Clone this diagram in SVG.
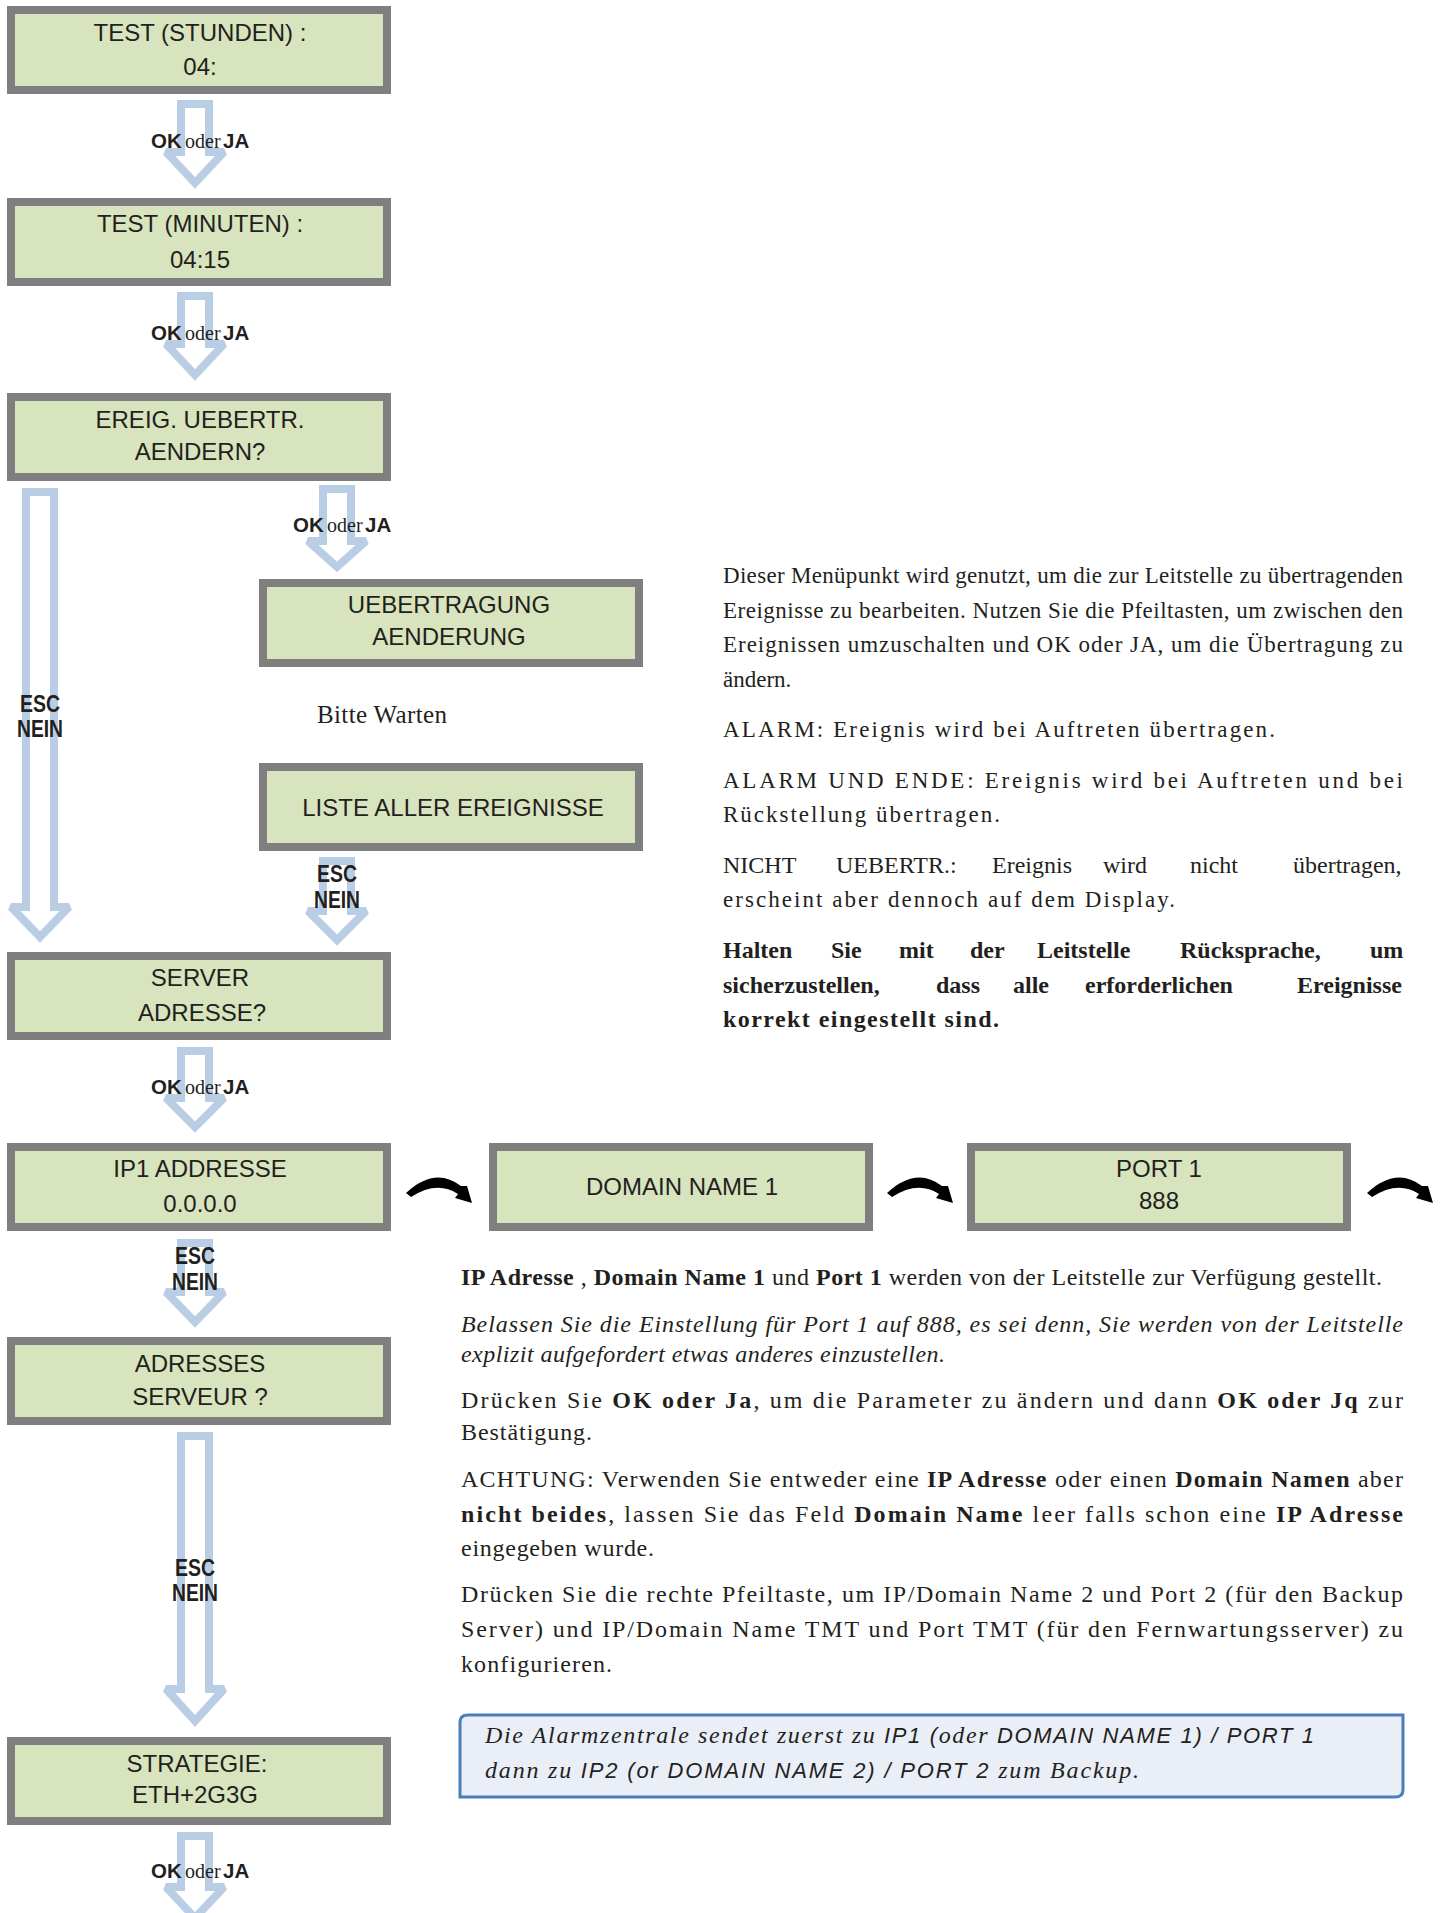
<svg xmlns="http://www.w3.org/2000/svg" xmlns:xlink="http://www.w3.org/1999/xlink" width="1442" height="1913" viewBox="0 0 1442 1913">
<defs>
<style>
.box rect{fill:#d7e4bd;stroke:#7f7f7f;stroke-width:8}
.bt{font-family:"Liberation Sans",Arial,sans-serif;font-size:24px;fill:#231f20;text-anchor:middle}
.arr{fill:none;stroke:#b9cde5;stroke-width:8;stroke-linejoin:miter;stroke-miterlimit:2}
.ok{font-family:"Liberation Sans",Arial,sans-serif;font-size:20.5px;font-weight:bold;fill:#231f20}
.oder{font-family:"Liberation Serif","Times New Roman",serif;font-size:20px;font-weight:normal}
.esc{font-family:"Liberation Sans",Arial,sans-serif;font-size:23px;font-weight:bold;fill:#231f20;text-anchor:middle}
.ser{font-family:"Liberation Serif","Times New Roman",serif;font-size:23px;fill:#231f20}
.big{font-size:24px}
.b{font-weight:bold}
.i{font-style:italic}
.sans{font-family:"Liberation Sans",Arial,sans-serif;font-size:22px}
.curv{fill:#000}
</style>
<path id="curved" d="M406,1193 Q435,1166 461,1186 L467,1186 L472,1203 L455,1198 L458,1194 Q437,1180 411,1197 Z"/>
</defs>
<rect width="1442" height="1913" fill="#ffffff"/>

<g id="connectors">
<path class="arr" d="M181,104 H209 V152 H224 L195,183 L166,152 H181 Z"/>
<path class="arr" d="M181,296 H209 V344 H224 L195,375 L166,344 H181 Z"/>
<path class="arr" d="M26,492 H54 V907 H69 L40,937 L11,907 H26 Z"/>
<path class="arr" d="M323,489 H351 V541 H366 L337,567 L308,541 H323 Z"/>
<path class="arr" d="M323,861 H351 V911 H366 L337,940 L308,911 H323 Z"/>
<path class="arr" d="M181,1051 H209 V1098 H224 L195,1127 L166,1098 H181 Z"/>
<path class="arr" d="M181,1243 H209 V1292 H224 L195,1322 L166,1292 H181 Z"/>
<path class="arr" d="M181,1436 H209 V1689 H224 L195,1721 L166,1689 H181 Z"/>
<path class="arr" d="M181,1836 H209 V1887 H224 L195,1918 L166,1887 H181 Z"/>
<use xlink:href="#curved" class="curv"/>
<use xlink:href="#curved" class="curv" x="481"/>
<use xlink:href="#curved" class="curv" x="961"/>
<text class="ok" y="148"><tspan x="151">OK</tspan><tspan class="oder" x="185">oder</tspan><tspan x="223">JA</tspan></text>
<text class="ok" y="340"><tspan x="151">OK</tspan><tspan class="oder" x="185">oder</tspan><tspan x="223">JA</tspan></text>
<text class="ok" y="532"><tspan x="293">OK</tspan><tspan class="oder" x="327">oder</tspan><tspan x="365">JA</tspan></text>
<text class="ok" y="1094"><tspan x="151">OK</tspan><tspan class="oder" x="185">oder</tspan><tspan x="223">JA</tspan></text>
<text class="ok" y="1878"><tspan x="151">OK</tspan><tspan class="oder" x="185">oder</tspan><tspan x="223">JA</tspan></text>
<text class="esc" x="40" y="712" textLength="40" lengthAdjust="spacingAndGlyphs">ESC</text>
<text class="esc" x="40" y="737" textLength="46" lengthAdjust="spacingAndGlyphs">NEIN</text>
<text class="esc" x="337" y="882" textLength="40" lengthAdjust="spacingAndGlyphs">ESC</text>
<text class="esc" x="337" y="908" textLength="46" lengthAdjust="spacingAndGlyphs">NEIN</text>
<text class="esc" x="195" y="1264" textLength="40" lengthAdjust="spacingAndGlyphs">ESC</text>
<text class="esc" x="195" y="1290" textLength="46" lengthAdjust="spacingAndGlyphs">NEIN</text>
<text class="esc" x="195" y="1576" textLength="40" lengthAdjust="spacingAndGlyphs">ESC</text>
<text class="esc" x="195" y="1601" textLength="46" lengthAdjust="spacingAndGlyphs">NEIN</text>
</g>

<g id="n-test-stunden" class="box"><rect x="11" y="10" width="376" height="80"/><text class="bt" x="200" y="41">TEST (STUNDEN) :</text><text class="bt" x="200" y="75">04:</text></g>
<g id="n-test-minuten" class="box"><rect x="11" y="202" width="376" height="80"/><text class="bt" x="200" y="232">TEST (MINUTEN) :</text><text class="bt" x="200" y="268">04:15</text></g>
<g id="n-ereig" class="box"><rect x="11" y="397" width="376" height="80"/><text class="bt" x="200" y="428">EREIG. UEBERTR.</text><text class="bt" x="200" y="460">AENDERN?</text></g>
<g id="n-uebertragung" class="box"><rect x="263" y="583" width="376" height="80"/><text class="bt" x="449" y="613">UEBERTRAGUNG</text><text class="bt" x="449" y="645">AENDERUNG</text></g>
<g id="n-bitte"><text class="ser" x="317" y="723" style="font-size:25px" textLength="130">Bitte Warten</text></g>
<g id="n-liste" class="box"><rect x="263" y="767" width="376" height="80"/><text class="bt" x="453" y="816">LISTE ALLER EREIGNISSE</text></g>
<g id="n-server" class="box"><rect x="11" y="956" width="376" height="80"/><text class="bt" x="200" y="986">SERVER</text><text class="bt" x="202" y="1021">ADRESSE?</text></g>
<g id="n-ip1" class="box"><rect x="11" y="1147" width="376" height="80"/><text class="bt" x="200" y="1177">IP1 ADDRESSE</text><text class="bt" x="200" y="1212">0.0.0.0</text></g>
<g id="n-domain" class="box"><rect x="493" y="1147" width="376" height="80"/><text class="bt" x="682" y="1195">DOMAIN NAME 1</text></g>
<g id="n-port" class="box"><rect x="971" y="1147" width="376" height="80"/><text class="bt" x="1159" y="1177">PORT 1</text><text class="bt" x="1159" y="1209">888</text></g>
<g id="n-adresses" class="box"><rect x="11" y="1341" width="376" height="80"/><text class="bt" x="200" y="1372">ADRESSES</text><text class="bt" x="200" y="1405">SERVEUR ?</text></g>
<g id="n-strategie" class="box"><rect x="11" y="1741" width="376" height="80"/><text class="bt" x="197" y="1772">STRATEGIE:</text><text class="bt" x="195" y="1803">ETH+2G3G</text></g>

<g id="desc-1">
<text class="ser" x="723" y="583" textLength="680" lengthAdjust="spacing">Dieser Menüpunkt wird genutzt, um die zur Leitstelle zu übertragenden</text>
<text class="ser" x="723" y="618" textLength="680" lengthAdjust="spacing">Ereignisse zu bearbeiten. Nutzen Sie die Pfeiltasten, um zwischen den</text>
<text class="ser" x="723" y="652" textLength="680" lengthAdjust="spacing">Ereignissen umzuschalten und OK oder JA, um die Übertragung zu</text>
<text class="ser" x="723" y="687">ändern.</text>
<text class="ser" x="723" y="737" textLength="552" lengthAdjust="spacing">ALARM: Ereignis wird bei Auftreten übertragen.</text>
<text class="ser" x="723" y="788" textLength="680" lengthAdjust="spacing">ALARM UND ENDE: Ereignis wird bei Auftreten und bei</text>
<text class="ser" x="723" y="822" textLength="277" lengthAdjust="spacing">Rückstellung übertragen.</text>
<text class="ser big" y="873"><tspan x="723">NICHT</tspan><tspan x="836">UEBERTR.:</tspan><tspan x="992">Ereignis</tspan><tspan x="1103">wird</tspan><tspan x="1190">nicht</tspan><tspan x="1293">übertragen,</tspan></text>
<text class="ser" x="723" y="907" textLength="452" lengthAdjust="spacing">erscheint aber dennoch auf dem Display.</text>
<text class="ser b big" y="958"><tspan x="723">Halten</tspan><tspan x="831">Sie</tspan><tspan x="899">mit</tspan><tspan x="970">der</tspan><tspan x="1037">Leitstelle</tspan><tspan x="1180">Rücksprache,</tspan><tspan x="1370">um</tspan></text>
<text class="ser b big" y="993"><tspan x="723">sicherzustellen,</tspan><tspan x="936">dass</tspan><tspan x="1013">alle</tspan><tspan x="1085">erforderlichen</tspan><tspan x="1297">Ereignisse</tspan></text>
<text class="ser b big" x="723" y="1027" textLength="276" lengthAdjust="spacing">korrekt eingestellt sind.</text>
</g>

<g id="desc-2">
<text class="ser big" x="461" y="1285" textLength="921" lengthAdjust="spacing"><tspan class="b">IP Adresse</tspan> , <tspan class="b">Domain Name 1</tspan> und <tspan class="b">Port 1</tspan> werden von der Leitstelle zur Verfügung gestellt.</text>
<text class="ser big i" x="461" y="1332" textLength="942" lengthAdjust="spacing">Belassen Sie die Einstellung für Port 1 auf 888, es sei denn, Sie werden von der Leitstelle</text>
<text class="ser big i" x="461" y="1362" textLength="484" lengthAdjust="spacing">explizit aufgefordert etwas anderes einzustellen.</text>
<text class="ser big" x="461" y="1408" textLength="942" lengthAdjust="spacing">Drücken Sie <tspan class="b">OK oder Ja</tspan>, um die Parameter zu ändern und dann <tspan class="b">OK oder Jq</tspan> zur</text>
<text class="ser big" x="461" y="1440" textLength="131" lengthAdjust="spacing">Bestätigung.</text>
<text class="ser big" x="461" y="1487" textLength="942" lengthAdjust="spacing">ACHTUNG: Verwenden Sie entweder eine <tspan class="b">IP Adresse</tspan> oder einen <tspan class="b">Domain Namen</tspan> aber</text>
<text class="ser big" x="461" y="1522" textLength="942" lengthAdjust="spacing"><tspan class="b">nicht beides</tspan>, lassen Sie das Feld <tspan class="b">Domain Name</tspan> leer falls schon eine <tspan class="b">IP Adresse</tspan></text>
<text class="ser big" x="461" y="1556" textLength="193" lengthAdjust="spacing">eingegeben wurde.</text>
<text class="ser big" x="461" y="1602" textLength="942" lengthAdjust="spacing">Drücken Sie die rechte Pfeiltaste, um IP/Domain Name 2 und Port 2 (für den Backup</text>
<text class="ser big" x="461" y="1637" textLength="942" lengthAdjust="spacing">Server) und IP/Domain Name TMT und Port TMT (für den Fernwartungsserver) zu</text>
<text class="ser big" x="461" y="1672" textLength="151" lengthAdjust="spacing">konfigurieren.</text>
</g>

<g id="callout">
<path d="M460,1797 L460,1722 Q460,1715 468,1715 L1403,1715 L1403,1790 Q1403,1797 1395,1797 Z" fill="#e9eef7" stroke="#4a7ebb" stroke-width="3"/>
<text class="ser big i" x="485" y="1743" textLength="829" lengthAdjust="spacing">Die Alarmzentrale sendet zuerst zu <tspan class="sans">IP1 (</tspan>oder<tspan class="sans"> DOMAIN NAME 1) / PORT 1</tspan></text>
<text class="ser big i" x="485" y="1778" textLength="654" lengthAdjust="spacing">dann zu <tspan class="sans">IP2 (or DOMAIN NAME 2) / PORT 2</tspan> zum Backup.</text>
</g>
</svg>
